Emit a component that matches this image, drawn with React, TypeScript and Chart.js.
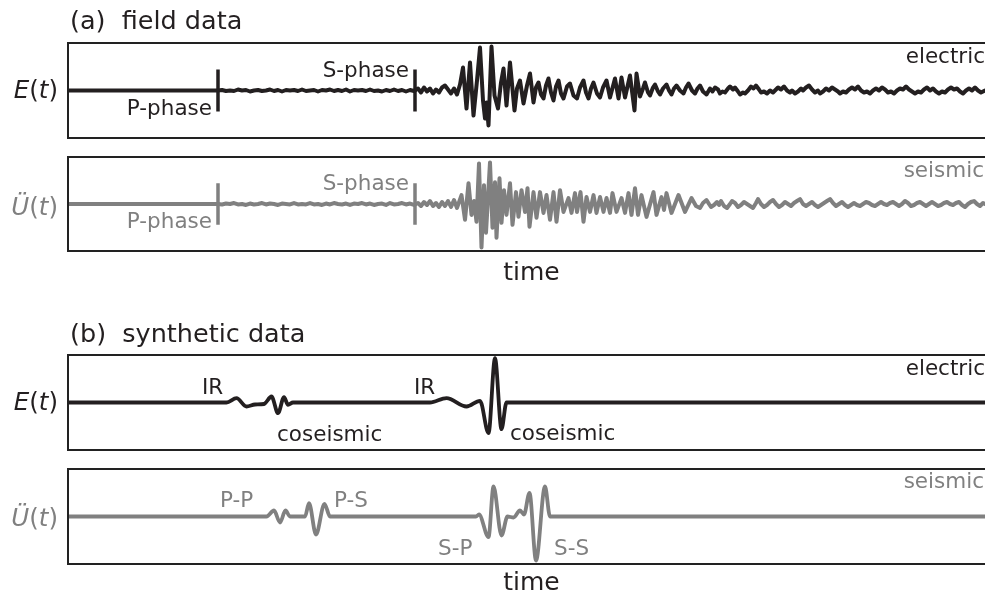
import React, { useEffect, useRef } from "react";
import { Chart, registerables } from "chart.js";

Chart.register(...registerables);

const W = 985;
const H = 596;
const INK = "#231f20";
const GREY = "#808080";
const FONT = "'DejaVu Sans', sans-serif";

// time axis in samples, amplitude in arbitrary units
const timeRange = [0, 917];
const ampRange = [-47.5, 47.5];

// phase picks (P, S) on field data
const phasePickT = [150, 347];
const phasePickAmp = [21, -21];

// (a) field data, electric trace: [time, amplitude]
const fieldElectric: [number, number][] = [
  [0, 0], [150, 0],
  [154, 0.5], [158, -0.5], [162, 0], [166, -0.5], [170, 1], [174, 0], [178, 0.5], [182, -1], [186, 0], [190, 0.5],
  [194, -0.5], [198, 0], [202, 1], [206, -0.5], [210, 0.5], [214, -1], [218, 0.5], [222, 0], [226, 0.5], [230, -0.5],
  [234, 1], [238, -0.5], [242, 0], [246, 0.5], [250, -1], [254, 0.5], [258, 0], [262, 1], [266, -0.5], [270, 0.5],
  [274, -0.5], [278, 1], [282, -1], [286, 0.5], [290, 0], [294, 0.5], [298, -0.5], [302, 1], [306, -0.5], [310, 0],
  [314, -1], [318, 0.5], [322, -0.5], [326, 1], [330, -0.5], [334, 0.5], [338, -1], [342, 0.5], [346, -0.5],
  [350, 2], [353, -2], [356, 3], [359, -1], [362, 2], [365, -3], [368, 1], [371, -2], [374, 3], [377, 5], [380, 1],
  [383, -3], [386, 2], [389, -4],
  [392, 6], [395, 23], [398.5, -18], [402, 28], [405.5, -25], [409, 10], [412, 43], [415, -10], [417, -28],
  [418.5, -12], [420.5, -35], [423.5, 44], [426.5, -5], [430, -18], [433, 8], [435.5, 22], [438.5, -15], [442, 28],
  [446.5, -20], [449, 2], [452, 10], [455.5, -13], [459, 5], [462, 17], [465.5, -12], [468, 3], [470.5, 8],
  [473, -4], [475.5, -8], [478, 5], [480.5, 12], [483, -2], [485.5, -10], [488, 4], [490.5, 10], [493, -3],
  [495.5, -8], [499, 4], [502, 7], [505.5, -5], [509, -8], [512, 3], [515.5, 10], [518, -2], [520.5, -8], [523, 2],
  [525.5, 8], [529, -3], [532, -7], [535, 3], [538.5, 10], [542, -7], [547, 12], [550.5, -8], [553.5, 13],
  [557, -7], [562, 15], [566.5, -20], [568.5, 17], [572, -6], [575, 2], [577, 8], [580, -2], [582, -5], [585, 3],
  [587, 6], [590, -1], [592, -4], [595, 2], [598.5, 6], [601, 0], [603.5, -4], [606, 2], [608.5, 5], [612, 0],
  [615.5, -3], [618, 3], [620.5, 7], [624, 0], [627, -3], [629.5, 2], [632, 5], [635, -1], [638.5, -4],
  [642, 2], [644.5, -1], [647, 3], [650, 1], [652, -3], [654.5, -1], [657, -2], [660, 2], [662, 4], [665, 1],
  [667, 3], [670, -1], [672, -4], [675, -2], [677, -3], [680, 0], [683, 4], [685.5, 2], [688, 5], [691, 1],
  [693, -2], [696, -1], [699, -3], [702, 0], [705, -2], [708, 1], [710, 3], [713, 1], [716, 4], [719, 0],
  [722, -2], [724, 0], [727, -3], [730, -1], [733, 2], [735, 0], [738, 3], [741, 5], [744, 1], [747, -2],
  [750, 0], [752, -3], [755, -1], [758, 2], [761, 0], [764, 3], [767, 1], [770, -1], [772, -3], [775, -1],
  [778, -2], [781, 1], [784, 3], [787, 1], [790, 4], [793, 0], [796, -2], [799, -1], [802, -3], [805, 0],
  [808, 2], [811, 0], [814, 3], [817, 1], [820, -2], [823, -1], [826, -3], [829, 0], [832, 2], [835, 1],
  [838, 4], [841, 1], [844, -1], [847, -3], [850, -1], [853, -2], [856, 1], [859, 3], [862, 0], [865, 2],
  [868, -1], [871, -3], [874, -1], [877, -2], [880, 1], [883, 3], [886, 1], [889, 2], [892, -1], [895, -3],
  [898, 0], [901, 2], [904, 0], [907, 3], [910, 0], [913, -2], [917, 0],
];

// (a) field data, seismic trace
const fieldSeismic: [number, number][] = [
  [0, 0], [150, 0],
  [154, -0.5], [158, 0.5], [162, 0], [166, 1], [170, -0.5], [174, 0], [178, -1], [182, 0.5], [186, -0.5], [190, 0],
  [194, 1], [198, -0.5], [202, 0.5], [206, 0], [210, -1], [214, 0.5], [218, 0], [222, -0.5], [226, 1], [230, -0.5],
  [234, 0], [238, -0.5], [242, 1], [246, -0.5], [250, 0], [254, -1], [258, 0.5], [262, -0.5], [266, 1], [270, 0],
  [274, -0.5], [278, 0.5], [282, -1], [286, 0.5], [290, 0], [294, 1], [298, -0.5], [302, 0.5], [306, -1], [310, 0],
  [314, 0.5], [318, -1], [322, 1], [326, -0.5], [330, 0], [334, 1], [338, -0.5], [342, 0.5], [346, -1],
  [350, 1], [353, -2], [356, 2], [359, -1], [362, 3], [365, -2], [368, 1], [371, -3], [374, 2], [377, -2], [380, 3],
  [383, -3], [386, 4], [389, -4],
  [393.5, 9], [397, -16], [400.5, 21], [403.5, -11], [406, 3], [408.5, -18], [411, 41], [413.5, -44], [416, 19],
  [418, -29], [422, 42], [424.5, -24], [427, 22], [428.5, -34], [431.5, 26], [433.5, -19], [436, 14], [438.5, -11],
  [442, 21], [444.5, -21], [448, 12], [450.5, -13], [453.5, 14], [457, -8], [459.5, 16], [461.5, -23], [465.5, 12],
  [468.5, -14], [472, 12], [475.5, -9], [478.5, 9], [482, -16], [485.5, 12], [488.5, -18], [492, 14], [495.5, -8],
  [500.5, 6], [503.5, -9], [507, 11], [509, -8], [512.5, 12], [515.5, -18], [518.5, 7], [522, -8], [525.5, 9],
  [528.5, -9], [532, 7], [535.5, -8], [538.5, 6], [542, -9], [544.5, 11], [548.5, -8], [553.5, 6], [557, -9],
  [560.5, 11], [563.5, -11], [567, 16], [570, -11], [573.5, 9], [578.5, -13], [585.5, 12], [588.5, -11],
  [593.5, 7], [596, -6], [598.5, 11], [603.5, -9], [610.5, 9], [617, -8], [623.5, 6], [628, -2],
  [632, -4], [635, 1], [638.5, 4], [641, 0], [643, -3], [646, -1], [649, 2], [651, -1], [653, 3], [656, -2],
  [659, -4], [662, 0], [664, 3], [667, 1], [670, -3], [673, -1], [676, 2], [679, 0], [682, -2], [685, -4],
  [688, 1], [690, 5], [693, 0], [696, -3], [699, -1], [702, 2], [705, 4], [708, 0], [711, -3], [714, -1],
  [717, 2], [720, 0], [723, -2], [726, 1], [729, 3], [732, 5], [735, 0], [738, -2], [741, 0], [744, 2],
  [747, -1], [750, -3], [753, -1], [756, 1], [759, 3], [762, 5], [765, 1], [768, -2], [771, 0], [774, 2],
  [777, -1], [780, -3], [783, -1], [786, 1], [789, -1], [792, -2], [795, 0], [798, 2], [801, 1], [804, -1],
  [807, -2], [810, 0], [813, 2], [816, 0], [819, -1], [822, 1], [825, 2], [828, 0], [831, -2], [834, 0],
  [837, 3], [840, 1], [843, -2], [846, -1], [849, 1], [852, 2], [855, 0], [858, -2], [861, 0], [864, 2],
  [867, 0], [870, -2], [873, -1], [876, 1], [879, 2], [882, 0], [885, -1], [888, 1], [891, 2], [894, -1],
  [897, -3], [900, 0], [903, 2], [906, 3], [909, 0], [912, -2], [915, 1], [917, 0],
];

// (b) synthetic data, electric trace
const synElectric: [number, number][] = [
  [0, 0], [158.5, 0], [168.5, 4.3], [178.5, -4], [187, -2], [196, -1.5], [203.5, 6], [210, -10.7], [216, 5.3],
  [220, -2.3], [225, 0], [362, 0], [378.5, 4.3], [398.5, -4], [412, 1.7], [420.5, -30.7], [427, 44.3],
  [433.5, -26.7], [438.5, 0], [917, 0],
];

// (b) synthetic data, seismic trace
const synSeismic: [number, number][] = [
  [0, 0], [198.5, 0], [206, 6], [212, -6], [217.5, 6], [222, 0], [237, 0], [241, 13.3], [248, -18], [256.5, 12.7],
  [262, 0], [408, 0], [411, 2], [420.5, -20.7], [425.5, 30], [433.5, -19], [439.5, 0], [445.5, -1], [452, 6],
  [456, 2], [461.5, 23.7], [468, -44], [477, 30], [482, 0], [917, 0],
];

type Lbl = { text: string; x: number; y: number; align: CanvasTextAlign; color: string; size: number };
type Panel = {
  top: number;
  bottom: number;
  color: string;
  trace: [number, number][];
  width: number;
  smooth: boolean;
  picks: boolean;
  symbol: string;
  symBase: number;
  labels: Lbl[];
};

const LS = 21.5;
const TS = 25.5;

const panels: Panel[] = [
  {
    top: 43, bottom: 138, color: INK, trace: fieldElectric, width: 4, smooth: false, picks: true, symbol: "E", symBase: 97.5,
    labels: [
      { text: "(a)  field data", x: 70, y: 29, align: "left", color: INK, size: TS },
      { text: "P-phase", x: 212, y: 115, align: "right", color: INK, size: LS },
      { text: "S-phase", x: 409, y: 77, align: "right", color: INK, size: LS },
      { text: "electric", x: 985, y: 63, align: "right", color: INK, size: LS },
    ],
  },
  {
    top: 157, bottom: 251, color: GREY, trace: fieldSeismic, width: 4, smooth: false, picks: true, symbol: "Ü", symBase: 214.5,
    labels: [
      { text: "P-phase", x: 212, y: 228, align: "right", color: GREY, size: LS },
      { text: "S-phase", x: 409, y: 190, align: "right", color: GREY, size: LS },
      { text: "seismic", x: 984, y: 177, align: "right", color: GREY, size: LS },
      { text: "time", x: 531.5, y: 280, align: "center", color: INK, size: 25 },
    ],
  },
  {
    top: 355, bottom: 450, color: INK, trace: synElectric, width: 3.8, smooth: true, picks: false, symbol: "E", symBase: 409.5,
    labels: [
      { text: "(b)  synthetic data", x: 70, y: 342, align: "left", color: INK, size: TS },
      { text: "IR", x: 202, y: 394, align: "left", color: INK, size: LS },
      { text: "coseismic", x: 277, y: 441, align: "left", color: INK, size: LS },
      { text: "IR", x: 414, y: 394, align: "left", color: INK, size: LS },
      { text: "coseismic", x: 510, y: 440, align: "left", color: INK, size: LS },
      { text: "electric", x: 985, y: 375, align: "right", color: INK, size: LS },
    ],
  },
  {
    top: 469, bottom: 564, color: GREY, trace: synSeismic, width: 3.8, smooth: true, picks: false, symbol: "Ü", symBase: 526,
    labels: [
      { text: "seismic", x: 984, y: 488, align: "right", color: GREY, size: LS },
      { text: "P-P", x: 220, y: 507, align: "left", color: GREY, size: LS },
      { text: "P-S", x: 334, y: 507, align: "left", color: GREY, size: LS },
      { text: "S-P", x: 438, y: 555, align: "left", color: GREY, size: LS },
      { text: "S-S", x: 554, y: 555, align: "left", color: GREY, size: LS },
      { text: "time", x: 531.5, y: 590, align: "center", color: INK, size: 25 },
    ],
  },
];

function drawSymbol(ctx: CanvasRenderingContext2D, sym: string, rightX: number, baseY: number, color: string) {
  const parts: [string, boolean][] = [[sym, true], ["(", false], ["t", true], [")", false]];
  const size = 24.5;
  let total = 0;
  const widths = parts.map(([s, it]) => {
    ctx.font = `${it ? "italic " : ""}${size}px ${FONT}`;
    const w = ctx.measureText(s).width;
    total += w;
    return w;
  });
  let x = rightX - total;
  ctx.fillStyle = color;
  ctx.textAlign = "left";
  ctx.textBaseline = "alphabetic";
  parts.forEach(([s, it], i) => {
    ctx.font = `${it ? "italic " : ""}${size}px ${FONT}`;
    ctx.fillText(s, x, baseY);
    x += widths[i];
  });
}

function makePlugin(p: Panel) {
  return {
    id: "frameAndText",
    afterDraw(chart: any) {
      const ctx: CanvasRenderingContext2D = chart.ctx;
      const a = chart.chartArea;
      ctx.save();
      ctx.strokeStyle = "#222222";
      ctx.lineWidth = 2;
      ctx.beginPath();
      ctx.moveTo(a.left, a.top);
      ctx.lineTo(W, a.top);
      ctx.moveTo(a.left, a.bottom);
      ctx.lineTo(W, a.bottom);
      ctx.moveTo(a.left, a.top - 1);
      ctx.lineTo(a.left, a.bottom + 1);
      ctx.stroke();
      for (const l of p.labels) {
        ctx.font = `${l.size}px ${FONT}`;
        ctx.fillStyle = l.color;
        ctx.textAlign = l.align;
        ctx.textBaseline = "alphabetic";
        ctx.fillText(l.text, l.x, l.y);
      }
      drawSymbol(ctx, p.symbol, 58, p.symBase, p.color);
      ctx.restore();
    },
  };
}

function buildConfig(p: Panel): any {
  const datasets: any[] = [
    {
      data: p.trace.map(([t, v]) => ({ x: t, y: v })),
      borderColor: p.color,
      borderWidth: p.width,
      pointRadius: 0,
      cubicInterpolationMode: p.smooth ? "monotone" : "default",
      tension: 0,
      borderJoinStyle: "round",
      borderCapStyle: "round",
      fill: false,
    },
  ];
  if (p.picks) {
    phasePickT.forEach((t) => {
      datasets.push({
        data: phasePickAmp.map((v) => ({ x: t, y: v })),
        borderColor: p.color,
        borderWidth: 3.5,
        pointRadius: 0,
        borderCapStyle: "butt",
        fill: false,
      });
    });
  }
  return {
    type: "line",
    data: { datasets },
    options: {
      responsive: false,
      animation: false,
      devicePixelRatio: 1,
      layout: { padding: { left: 68, right: 0, top: p.top, bottom: H - p.bottom } },
      scales: {
        x: { type: "linear", min: timeRange[0], max: timeRange[1], display: false },
        y: { type: "linear", min: ampRange[0], max: ampRange[1], display: false },
      },
      plugins: { legend: { display: false }, tooltip: { enabled: false } },
      elements: { point: { radius: 0 } },
    },
    plugins: [makePlugin(p)],
  };
}

export default function App() {
  const refs = useRef<(HTMLCanvasElement | null)[]>([]);
  useEffect(() => {
    const charts = panels.map((p, i) => new Chart(refs.current[i] as HTMLCanvasElement, buildConfig(p)));
    return () => charts.forEach((c) => c.destroy());
  }, []);
  return (
    <div style={{ position: "absolute", left: 0, top: 0, width: W, height: H, background: "#ffffff", overflow: "hidden" }}>
      {panels.map((_, i) => (
        <canvas
          key={i}
          ref={(el) => {
            refs.current[i] = el;
          }}
          width={W}
          height={H}
          style={{ position: "absolute", left: 0, top: 0, width: W, height: H }}
        />
      ))}
    </div>
  );
}
